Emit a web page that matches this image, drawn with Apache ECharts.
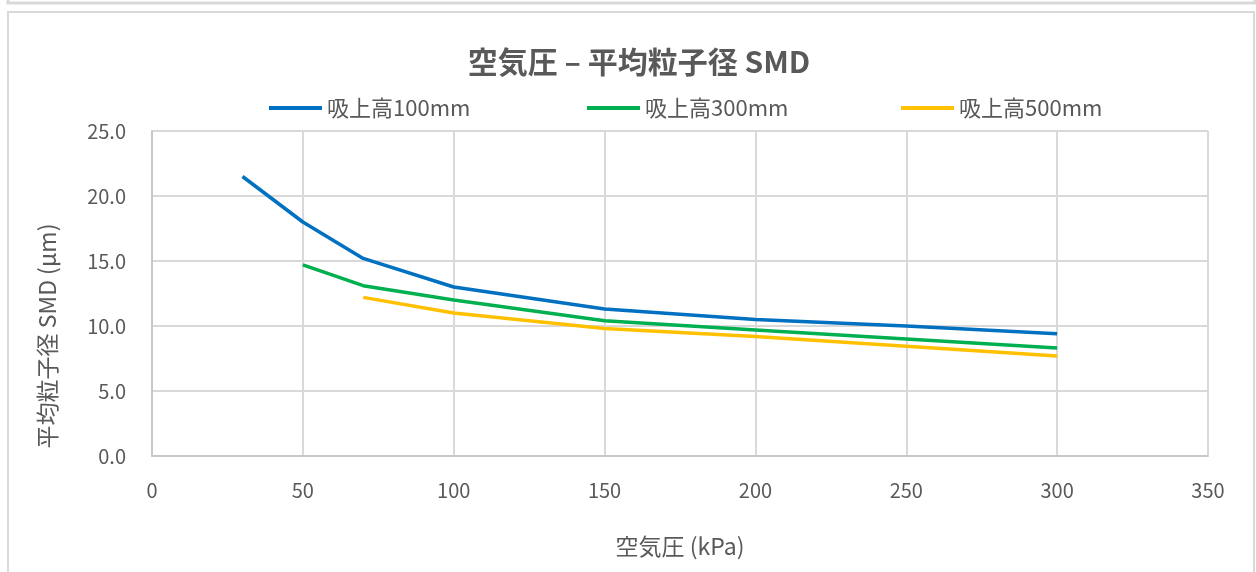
<!DOCTYPE html>
<html>
<head>
<meta charset="utf-8">
<script src="https://cdn.jsdelivr.net/npm/echarts@6/dist/echarts.min.js"></script>
<style>
  html, body { margin: 0; padding: 0; background: #ffffff; }
  #chart { width: 1256px; height: 572px; }
</style>
</head>
<body>
<div id="chart"></div>
<script>
// Air pressure (kPa) vs. mean particle size SMD (µm) for three suction heights
const seriesNames = ['吸上高100mm', '吸上高300mm', '吸上高500mm'];
const pressure100 = [30, 50, 70, 100, 150, 200, 250, 300];
const smd100      = [21.5, 18.0, 15.2, 13.0, 11.3, 10.5, 10.0, 9.4];
const pressure300 = [50, 70, 100, 150, 200, 250, 300];
const smd300      = [14.7, 13.1, 12.0, 10.4, 9.7, 9.0, 8.3];
const pressure500 = [70, 100, 150, 200, 250, 300];
const smd500      = [12.2, 11.0, 9.8, 9.2, 8.45, 7.7];
const lineColors  = ['#0070C0', '#00B050', '#FFC000'];

const titleText = '空気圧 – 平均粒子径 SMD';
const xAxisName = '空気圧 (kPa)';
const yAxisName = '平均粒子径 SMD (μm)';

const FONT = '"Noto Sans CJK JP", "Noto Sans", sans-serif';
const TEXT = '#595959';
const GRID = '#d9d9d9';

const pairs = (xs, ys) => xs.map((x, i) => [x, ys[i]]);
const allData = [
  pairs(pressure100, smd100),
  pairs(pressure300, smd300),
  pairs(pressure500, smd500)
];

const chart = echarts.init(document.getElementById('chart'));

const legendLefts = [264, 582, 896];

chart.setOption({
  backgroundColor: '#ffffff',
  animation: false,
  title: {
    text: titleText,
    left: 634,
    top: 42,
    textAlign: 'center',
    textStyle: { fontFamily: FONT, fontSize: 30, fontWeight: 'bold', color: TEXT }
  },
  legend: seriesNames.map((name, i) => ({
    data: [name],
    left: legendLefts[i],
    top: 92,
    icon: 'rect',
    itemWidth: 53,
    itemHeight: 4,
    itemGap: 0,
    textStyle: { fontFamily: FONT, fontSize: 22, color: TEXT, padding: [0, 0, 0, 0] },
    selectedMode: false
  })),
  grid: { left: 152, right: 48, top: 131, bottom: 116 },
  xAxis: {
    type: 'value',
    min: 0,
    max: 350,
    interval: 50,
    name: xAxisName,
    nameLocation: 'middle',
    nameGap: 79,
    nameTextStyle: { fontFamily: FONT, fontSize: 23, color: TEXT },
    axisLine: { show: true, lineStyle: { color: '#c8c8c8', width: 2 } },
    axisTick: { show: false },
    axisLabel: { fontFamily: FONT, fontSize: 20, color: TEXT, margin: 24 },
    splitLine: { show: true, lineStyle: { color: GRID, width: 2 } }
  },
  yAxis: {
    type: 'value',
    min: 0,
    max: 25,
    interval: 5,
    axisLine: { show: true, lineStyle: { color: '#c8c8c8', width: 2 } },
    axisTick: { show: false },
    axisLabel: {
      fontFamily: FONT, fontSize: 20, color: TEXT, margin: 26,
      formatter: v => v.toFixed(1)
    },
    splitLine: { show: true, lineStyle: { color: GRID, width: 2 } }
  },
  graphic: [
    {
      type: 'rect',
      shape: { x: 8, y: -12, width: 1247, height: 15 },
      style: { fill: 'none', stroke: GRID, lineWidth: 3 },
      silent: true
    },
    {
      type: 'rect',
      shape: { x: 8, y: 12, width: 1246, height: 600 },
      style: { fill: 'none', stroke: GRID, lineWidth: 2 },
      silent: true
    },
    {
      type: 'text',
      x: 47,
      y: 336,
      rotation: Math.PI / 2,
      style: {
        text: yAxisName,
        fontFamily: FONT,
        fontSize: 23,
        fill: TEXT,
        align: 'center',
        verticalAlign: 'middle'
      },
      silent: true
    }
  ],
  series: seriesNames.map((name, i) => ({
    name: name,
    type: 'line',
    data: allData[i],
    symbol: 'none',
    smooth: false,
    color: lineColors[i],
    lineStyle: { color: lineColors[i], width: 3.5 },
    itemStyle: { color: lineColors[i] },
    z: 3 + (2 - i)
  }))
});
</script>
</body>
</html>
